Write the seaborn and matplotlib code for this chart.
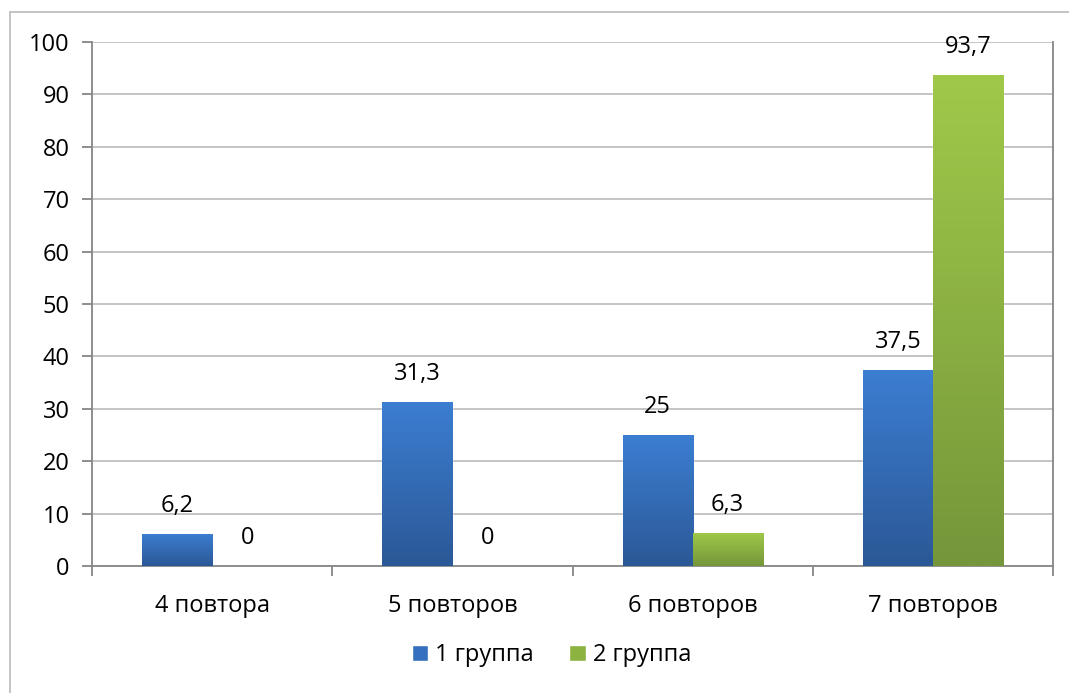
import numpy as np
import pandas as pd
import seaborn as sns
import matplotlib.pyplot as plt
from matplotlib.patches import Rectangle
from matplotlib.colors import LinearSegmentedColormap
from matplotlib.ticker import FixedLocator

# Data
categories = ["4 повтора", "5 повторов", "6 повторов", "7 повторов"]
group_names = ["1 группа", "2 группа"]
group1 = [6.2, 31.3, 25, 37.5]
group2 = [0, 0, 6.3, 93.7]
value_labels1 = ["6,2", "31,3", "25", "37,5"]
value_labels2 = ["0", "0", "6,3", "93,7"]

df = pd.DataFrame({
    "Категория": categories * 2,
    "Группа": [group_names[0]] * 4 + [group_names[1]] * 4,
    "Значение": group1 + group2,
})

sns.set_style("white")
plt.rcParams["font.family"] = ["Open Sans", "DejaVu Sans"]
plt.rcParams["text.color"] = "black"
plt.rcParams["xtick.color"] = "black"
plt.rcParams["ytick.color"] = "black"

fig = plt.figure(figsize=(10.69, 6.93), dpi=100)
ax = fig.add_axes([92 / 1069, 1 - 566 / 693, (1053 - 92) / 1069, (566 - 42) / 693])

colors = {"1 группа": "#3470BE", "2 группа": "#8CB23F"}
sns.barplot(data=df, x="Категория", y="Значение", hue="Группа",
            palette=colors, width=0.583, saturation=1, ax=ax, zorder=2)

# gradient fills on the bars
grads = {
    "1 группа": LinearSegmentedColormap.from_list("b", ["#2B5896", "#3C7ED2"]),
    "2 группа": LinearSegmentedColormap.from_list("g", ["#75963A", "#A0C94A"]),
}
grad = np.linspace(0, 1, 256).reshape(-1, 1)
for cont, name in zip(ax.containers, group_names):
    for bar in cont:
        h = bar.get_height()
        if h <= 0:
            continue
        x0 = bar.get_x()
        w = bar.get_width()
        im = ax.imshow(grad, cmap=grads[name], origin="lower", aspect="auto",
                       extent=[x0, x0 + w, 0, h], zorder=3)
        im.set_clip_path(bar)

# value labels
for cont, labels in zip(ax.containers, [value_labels1, value_labels2]):
    for bar, lab in zip(cont, labels):
        ax.annotate(lab, (bar.get_x() + bar.get_width() / 2, bar.get_height()),
                    xytext=(0, 20), textcoords="offset points",
                    ha="center", va="center", fontsize=17, color="black")

ax.set_xlim(-0.5, 3.5)
ax.set_ylim(0, 100)
ax.set_yticks(range(0, 101, 10))
ax.yaxis.grid(True, color="#BFBFBF", linewidth=1.3, zorder=0)
ax.set_axisbelow(True)
ax.set_xlabel("")
ax.set_ylabel("")

ax.spines["top"].set_visible(False)
for side in ["left", "bottom", "right"]:
    ax.spines[side].set_visible(True)
    ax.spines[side].set_color("#868686")
    ax.spines[side].set_linewidth(1.3)

ax.tick_params(axis="y", length=7, width=1.3, color="#868686",
               labelsize=17, pad=9, left=True, labelcolor="black")
ax.tick_params(axis="x", which="major", length=0, labelsize=17, pad=20,
               labelcolor="black")
ax.xaxis.set_minor_locator(FixedLocator([-0.5, 0.5, 1.5, 2.5, 3.5]))
ax.tick_params(axis="x", which="minor", length=7, width=1.3,
               color="#868686", bottom=True)

ax.legend(loc="center", bbox_to_anchor=(0.478, -0.170), ncol=2,
          frameon=False, fontsize=17, handlelength=0.7, handleheight=0.7,
          handletextpad=0.3, columnspacing=1.5, title=None)

# outer chart border (only left and top visible in the crop)
fig.patches.append(Rectangle((10 / 1069, -0.1), 1.2, 1 - 12 / 693 + 0.1,
                             transform=fig.transFigure, fill=False,
                             edgecolor="#BFBFBF", linewidth=1.3))

fig.savefig("out.png", dpi=100)
